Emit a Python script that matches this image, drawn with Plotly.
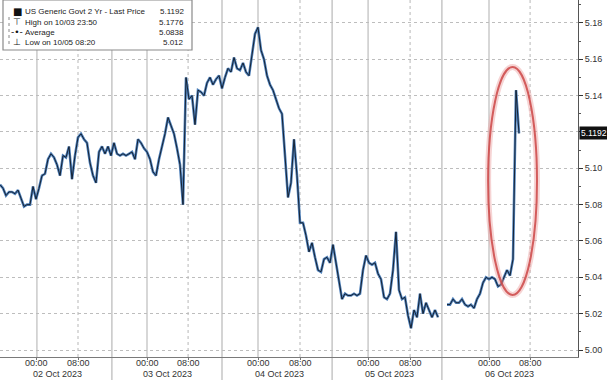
import plotly.graph_objects as go

# ---- data ----
# one value per bar position (bar index), US 2Y yield, 02-06 Oct 2023
YIELD = [
    5.091, 5.089, 5.085, 5.087, 5.087, 5.086, 5.088, 5.083, 5.079, 5.080,
    5.080, 5.090, 5.083, 5.089, 5.096, 5.097, 5.105, 5.108, 5.106, 5.102,
    5.096, 5.107, 5.106, 5.112, 5.094, 5.107, 5.117, 5.119, 5.116, 5.114,
    5.103, 5.096, 5.092, 5.109, 5.112, 5.108, 5.112, 5.107, 5.114, 5.108,
    5.107, 5.108, 5.107, 5.108, 5.109, 5.105, 5.116, 5.114, 5.111, 5.109,
    5.105, 5.098, 5.096, 5.105, 5.112, 5.119, 5.128, 5.124, 5.119, 5.111,
    5.102, 5.080, 5.150, 5.138, 5.140, 5.124, 5.143, 5.142, 5.140, 5.147,
    5.150, 5.146, 5.149, 5.151, 5.144, 5.150, 5.155, 5.153, 5.161, 5.155,
    5.154, 5.158, 5.153, 5.151, 5.162, 5.174, 5.1776, 5.165, 5.160, 5.151,
    5.146, 5.143, 5.138, 5.133, 5.130, 5.106, 5.084, 5.092, 5.116, 5.096,
    5.070, 5.070, 5.063, 5.054, 5.059, 5.051, 5.044, 5.043, 5.050, 5.051,
    5.048, 5.058, 5.048, 5.037, 5.028, 5.031, 5.030, 5.030, 5.031, 5.030,
    5.031, 5.044, 5.052, 5.048, 5.047, 5.048, 5.042, 5.039, 5.029, 5.028,
    5.031, 5.044, 5.065, 5.033, 5.028, 5.029, 5.019, 5.012, 5.022, 5.018,
    5.031, 5.020, 5.026, 5.022, 5.018, 5.022, 5.018, None, None, 5.025,
    5.025, 5.028, 5.026, 5.026, 5.028, 5.025, 5.024, 5.025, 5.023, 5.028,
    5.031, 5.037, 5.040, 5.039, 5.040, 5.039, 5.035, 5.036, 5.040, 5.044,
    5.041, 5.050, 5.143, 5.1192,
]
BAR = list(range(len(YIELD)))

DAY_LABELS = ["02 Oct 2023", "03 Oct 2023", "04 Oct 2023", "05 Oct 2023", "06 Oct 2023"]
MIDNIGHT_POS = [12.3, 49.0, 86.0, 122.7, 163.0]     # bar index of 00:00
EIGHT_POS = [26.0, 62.7, 100.0, 136.7, 176.7]       # bar index of 08:00
SEPARATOR_POS = [37.3, 74.0, 110.7, 147.3]          # day separators
Y_TICKS = [5.00, 5.02, 5.04, 5.06, 5.08, 5.10, 5.12, 5.14, 5.16, 5.18]

LEGEND_ROWS = [
    ("US Generic Govt 2 Yr - Last Price", "5.1192"),
    ("High on 10/03 23:50", "5.1776"),
    ("Average", "5.0838"),
    ("Low on 10/05 08:20", "5.012"),
]
LAST_PRICE = 5.1192

# ---- layout geometry ----
W, H = 607, 380
ML, MR, MT, MB = 0, 29, 0, 23
PW, PH = W - ML - MR, H - MT - MB
FONT = "Liberation Sans, Arial, sans-serif"


def px(xp):
    return (xp - ML) / PW


def py(yp):
    return 1 - (yp - MT) / PH


fig = go.Figure()
fig.add_trace(go.Scatter(x=BAR, y=YIELD, mode="lines", line=dict(color="#4f80ba", width=2.6),
                         connectgaps=False, hoverinfo="skip"))
fig.add_trace(go.Scatter(x=BAR, y=YIELD, mode="lines", line=dict(color="#0f1826", width=0.9),
                         connectgaps=False))

shapes = []
for xv in MIDNIGHT_POS:
    shapes.append(dict(type="line", xref="x", yref="paper", x0=xv, x1=xv, y0=0, y1=1,
                       line=dict(color="#cacaca", width=1.5), layer="below"))
for xv in EIGHT_POS:
    shapes.append(dict(type="line", xref="x", yref="paper", x0=xv, x1=xv, y0=0, y1=1,
                       line=dict(color="#c4c4c4", width=1.2, dash="dot"), layer="below"))
for xv in SEPARATOR_POS:
    shapes.append(dict(type="line", xref="x", yref="paper", x0=xv, x1=xv, y0=-MB / PH, y1=1,
                       line=dict(color="#b8b8b8", width=1.2), layer="below"))

# red ellipse highlighting the payrolls spike
shapes.append(dict(type="circle", xref="x", yref="y", x0=162.7, x1=179.0, y0=5.0303, y1=5.1557,
                   line=dict(color="rgba(235,160,160,0.45)", width=6)))
shapes.append(dict(type="circle", xref="x", yref="y", x0=162.7, x1=179.0, y0=5.0303, y1=5.1557,
                   line=dict(color="rgba(205,70,70,0.85)", width=2)))

# legend box
shapes.append(dict(type="rect", xref="paper", yref="paper", x0=px(3), x1=px(192), y0=py(50), y1=py(0),
                   fillcolor="white", line=dict(color="#8a8a8a", width=1.2)))
shapes.append(dict(type="line", xref="paper", yref="paper", x0=px(9), x1=px(9), y0=py(44), y1=py(14),
                   line=dict(color="#888", width=1, dash="dot")))

annotations = []
row_y = [12, 22, 32, 42]
icons = ["■", "⊤", "-•-", "⊥"]
for (label, value), ry, ic in zip(LEGEND_ROWS, row_y, icons):
    annotations.append(dict(xref="paper", yref="paper", x=px(23), y=py(ry), text=label, showarrow=False,
                            xanchor="left", yanchor="middle", font=dict(family=FONT, size=8, color="#222")))
    annotations.append(dict(xref="paper", yref="paper", x=px(186), y=py(ry), text=value, showarrow=False,
                            xanchor="right", yanchor="middle", font=dict(family=FONT, size=8, color="#222")))
    annotations.append(dict(xref="paper", yref="paper", x=px(17), y=py(ry), text=ic, showarrow=False,
                            xanchor="center", yanchor="middle",
                            font=dict(family="DejaVu Sans", size=9 if ic != "■" else 10, color="#111")))

# time labels and date labels
for m, e, d in zip(MIDNIGHT_POS, EIGHT_POS, DAY_LABELS):
    for xv, t in ((m, "00:00"), (e, "08:00")):
        annotations.append(dict(xref="x", yref="paper", x=xv, y=py(363), text=t, showarrow=False,
                                xanchor="center", yanchor="middle", font=dict(family=FONT, size=9, color="#333")))
    annotations.append(dict(xref="x", yref="paper", x=(m + e) / 2, y=py(374), text=d, showarrow=False,
                            xanchor="center", yanchor="middle", font=dict(family=FONT, size=9, color="#333")))

# last-price badge on the axis
annotations.append(dict(xref="paper", yref="y", x=1, y=LAST_PRICE, text=f"{LAST_PRICE:.4f}", showarrow=False,
                        xanchor="left", yanchor="middle", xshift=1, bgcolor="#111", borderpad=1,
                        font=dict(family=FONT, size=8.5, color="white")))

fig.update_layout(
    width=W, height=H, margin=dict(l=ML, r=MR, t=MT, b=MB),
    paper_bgcolor="white", plot_bgcolor="white", showlegend=False,
    shapes=shapes, annotations=annotations,
    xaxis=dict(range=[0, PW / 3], showgrid=False, zeroline=False, showline=True, linecolor="#7a7a7a",
               linewidth=1, tickvals=MIDNIGHT_POS + EIGHT_POS, ticks="outside", ticklen=2,
               tickcolor="#777", showticklabels=False, fixedrange=True),
    yaxis=dict(side="right", range=[4.99615, 5.19263], tickvals=Y_TICKS,
               ticktext=[("" if abs(v - 5.12) < 1e-9 else f"{v:.2f}") for v in Y_TICKS],
               showgrid=True, gridcolor="#bdbdbd", griddash="dot", gridwidth=1, zeroline=False,
               showline=True, linecolor="#555", linewidth=1, ticks="outside", ticklen=4, tickcolor="#333",
               minor=dict(dtick=0.01, ticks="outside", ticklen=2, tickcolor="#555", showgrid=False),
               tickfont=dict(family=FONT, size=9, color="#333")),
)

fig.write_html("out.html")
